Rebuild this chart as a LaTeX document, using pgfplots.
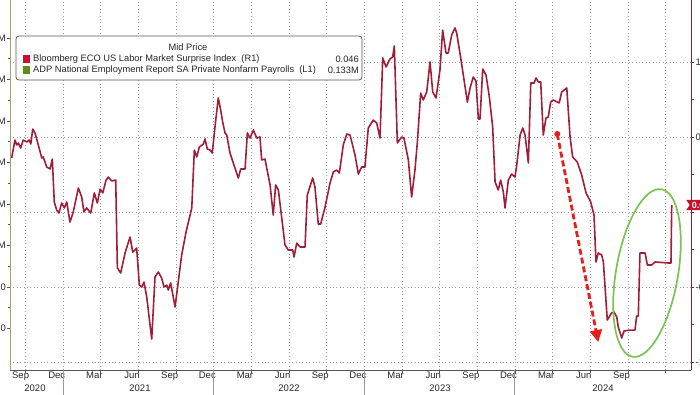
\documentclass[border=0pt]{standalone}
\usepackage{fontspec}
\setmainfont{Liberation Sans}
\usepackage{pgfplots}
\pgfplotsset{compat=1.18}
\usetikzlibrary{arrows.meta,shapes.symbols}
\definecolor{lineR}{HTML}{A11E38}
\definecolor{sqR}{HTML}{C8102E}
\definecolor{sqG}{HTML}{5E8E1E}
\definecolor{axgray}{HTML}{555555}
\definecolor{axred}{HTML}{8B2232}
\definecolor{axolive}{HTML}{A8A070}
\definecolor{gridc}{HTML}{9A9A9A}
\definecolor{arrred}{HTML}{E3201B}
\definecolor{ellg}{HTML}{7CC254}
\begin{document}
\begin{tikzpicture}[x=1pt,y=1pt]
% left axis (L1)
\begin{axis}[
  at={(10pt,24pt)}, anchor=south west, scale only axis,
  width=681pt, height=372pt,
  xmin=2020.648, xmax=2025.170, ymin=-0.4, ymax=1.3928,
  axis x line=none, axis y line*=left,
  y axis line style={draw=axolive, line width=0.9pt, -},
  ytick={-0.2,0,0.2,0.4,0.6,0.8,1.0,1.2},
  yticklabels={-200000,0,0.2M,0.4M,0.6M,0.8M,1.0M,1.2M},
  minor y tick num=1,
  tick align=outside, major tick length=3.5pt, minor tick length=2pt,
  y tick style={draw=axgray, line width=0.8pt},
  yticklabel style={font=\fontsize{9.5}{11}\selectfont, inner sep=0.5pt, text=black!85},
]
\end{axis}
% main axis (R1)
\begin{axis}[
  at={(10pt,24pt)}, anchor=south west, scale only axis,
  width=681pt, height=372pt,
  xmin=2020.648, xmax=2025.170, ymin=-1.0533, ymax=1.4267,
  axis x line*=bottom, axis y line*=right,
  x axis line style={draw=axgray, line width=0.8pt, -},
  y axis line style={draw=axred, line width=0.8pt, -},
  xtick={2020.75,2021,...,2025}, xticklabels={},
  minor x tick num=2,
  xmajorgrids, ymajorgrids,
  major grid style={draw=gridc, line width=0.6pt, dash pattern=on 0.8pt off 2.6pt},
  extra x ticks={2020.7183,2020.9583,2021.2083,2021.4583,2021.7083,2021.9583,2022.2083,2022.4583,2022.7083,2022.9583,2023.2083,2023.4583,2023.7083,2023.9583,2024.2083,2024.4583,2024.7083},
  extra x tick labels={Sep,Dec,Mar,Jun,Sep,Dec,Mar,Jun,Sep,Dec,Mar,Jun,Sep,Dec,Mar,Jun,Sep},
  extra x tick style={grid=none, major tick length=0pt},
  xticklabel style={font=\fontsize{9.5}{11}\selectfont, text=black!85, inner sep=1.5pt},
  ytick={-1,-0.5,0,0.5,1}, yticklabels={-1.0,-0.5,{},0.5,1.0},
  minor y tick num=1,
  tick align=outside, major tick length=3pt, minor tick length=3pt,
  x tick style={draw=axgray, line width=0.7pt},
  y tick style={draw=axred, line width=0.8pt},
  yticklabel style={font=\fontsize{9.5}{11}\selectfont, inner sep=1.5pt, text=black!85},
]
\addplot[lineR, line width=1.6pt, line join=round] coordinates {
(2020.659,0.360)(2020.681,0.480)(2020.693,0.447)(2020.703,0.460)(2020.719,0.427)(2020.736,0.480)(2020.759,0.467)(2020.776,0.480)(2020.786,0.453)(2020.799,0.553)(2020.814,0.527)(2020.836,0.447)(2020.859,0.360)(2020.869,0.367)(2020.892,0.300)(2020.914,0.287)(2020.929,0.353)(2020.942,0.067)(2020.958,0.013)(2020.973,-0.007)(2020.991,0.060)(2021.009,0.027)(2021.025,0.067)(2021.046,-0.067)(2021.068,0.000)(2021.102,0.160)(2021.124,0.100)(2021.139,0.000)(2021.157,0.027)(2021.184,-0.007)(2021.208,0.127)(2021.228,0.060)(2021.246,0.153)(2021.264,0.127)(2021.286,0.213)(2021.301,0.233)(2021.323,0.207)(2021.350,0.213)(2021.361,-0.373)(2021.383,-0.407)(2021.412,-0.273)(2021.445,-0.167)(2021.463,-0.267)(2021.478,-0.253)(2021.489,-0.240)(2021.507,-0.487)(2021.523,-0.500)(2021.538,-0.467)(2021.556,-0.567)(2021.589,-0.847)(2021.611,-0.433)(2021.633,-0.400)(2021.655,-0.440)(2021.671,-0.500)(2021.689,-0.487)(2021.699,-0.520)(2021.715,-0.473)(2021.744,-0.633)(2021.788,-0.287)(2021.817,-0.133)(2021.855,0.027)(2021.872,0.413)(2021.888,0.367)(2021.905,0.433)(2021.932,0.453)(2021.943,0.487)(2021.958,0.420)(2021.976,0.413)(2021.991,0.393)(2022.009,0.567)(2022.031,0.760)(2022.047,0.680)(2022.060,0.600)(2022.076,0.527)(2022.087,0.513)(2022.109,0.393)(2022.142,0.293)(2022.164,0.227)(2022.180,0.287)(2022.209,0.287)(2022.224,0.527)(2022.242,0.493)(2022.264,0.547)(2022.286,0.493)(2022.308,0.500)(2022.319,0.347)(2022.341,0.353)(2022.375,0.180)(2022.396,-0.020)(2022.412,0.180)(2022.430,0.147)(2022.474,-0.220)(2022.496,-0.253)(2022.525,-0.253)(2022.534,-0.300)(2022.552,-0.207)(2022.574,-0.233)(2022.607,-0.233)(2022.622,0.113)(2022.658,0.227)(2022.673,0.167)(2022.695,-0.080)(2022.711,-0.080)(2022.740,0.033)(2022.773,0.193)(2022.795,0.267)(2022.817,0.280)(2022.835,0.260)(2022.861,0.447)(2022.884,0.520)(2022.906,0.513)(2022.939,0.380)(2022.961,0.253)(2022.983,0.300)(2023.005,0.300)(2023.027,0.560)(2023.060,0.613)(2023.083,0.593)(2023.105,0.493)(2023.123,1.027)(2023.145,0.967)(2023.171,1.020)(2023.189,1.033)(2023.200,1.107)(2023.220,0.460)(2023.249,0.500)(2023.264,0.493)(2023.293,0.347)(2023.315,0.100)(2023.337,0.280)(2023.353,0.467)(2023.375,0.793)(2023.392,0.747)(2023.415,0.800)(2023.437,1.000)(2023.455,0.800)(2023.477,0.760)(2023.503,0.947)(2023.521,1.213)(2023.543,1.060)(2023.558,1.060)(2023.581,1.180)(2023.603,1.227)(2023.614,1.193)(2023.641,1.027)(2023.663,0.880)(2023.685,0.733)(2023.703,0.827)(2023.724,0.900)(2023.742,0.873)(2023.758,0.620)(2023.769,0.620)(2023.787,0.953)(2023.809,0.913)(2023.831,0.767)(2023.853,0.567)(2023.869,0.200)(2023.890,0.147)(2023.906,0.213)(2023.924,0.133)(2023.935,0.027)(2023.957,0.213)(2023.979,0.253)(2024.001,0.233)(2024.013,0.313)(2024.035,0.513)(2024.053,0.560)(2024.068,0.513)(2024.090,0.327)(2024.106,0.860)(2024.128,0.860)(2024.141,0.893)(2024.156,0.867)(2024.172,0.867)(2024.189,0.513)(2024.207,0.627)(2024.222,0.633)(2024.238,0.733)(2024.256,0.747)(2024.282,0.733)(2024.295,0.727)(2024.311,0.800)(2024.345,0.827)(2024.367,0.500)(2024.384,0.367)(2024.415,0.333)(2024.444,0.247)(2024.473,0.127)(2024.504,0.067)(2024.526,-0.020)(2024.539,-0.333)(2024.554,-0.273)(2024.577,-0.287)(2024.588,-0.333)(2024.614,-0.720)(2024.643,-0.673)(2024.659,-0.667)(2024.677,-0.700)(2024.687,-0.767)(2024.710,-0.840)(2024.725,-0.793)(2024.765,-0.787)(2024.798,-0.787)(2024.809,-0.693)(2024.820,-0.693)(2024.831,-0.273)(2024.865,-0.273)(2024.880,-0.353)(2024.909,-0.353)(2024.931,-0.333)(2025.019,-0.340)(2025.037,-0.340)(2025.042,0.046)
};
% red dashed arrow annotation
\draw[arrred, line width=2.8pt, dash pattern=on 6pt off 3pt, -{Triangle[width=12pt,length=12pt]}]
  (axis cs:2024.282,0.52) -- (axis cs:2024.554,-0.867);
\fill[arrred] (axis cs:2024.282,0.52) circle (3pt);
\end{axis}
% year separators (at Jan 1 positions of the axis)
\draw[gridc, line width=0.7pt] (63,24) -- (63,-2);
\draw[gridc, line width=0.7pt] (213.6,24) -- (213.6,-2);
\draw[gridc, line width=0.7pt] (364.2,24) -- (364.2,-2);
\draw[gridc, line width=0.7pt] (514.8,24) -- (514.8,-2);
% green ellipse
\draw[ellg, line width=1.7pt, rotate around={-9.8:(647,121)}] (647,121) ellipse (31 and 85);
% year labels
\begin{scope}[every node/.style={font=\fontsize{9.5}{11}\selectfont, text=black!85, inner sep=0pt}]
\node at (35,6) {2020};
\node at (140,6) {2021};
\node at (289,6) {2022};
\node at (440,6) {2023};
\node at (603,6) {2024};
\end{scope}
% last value tag
\node[signal, signal from=west, signal pointer angle=110, fill=sqR, text=white,
      font=\bfseries\fontsize{9}{10}\selectfont, inner sep=2pt, anchor=west] at (689.5,189) {0.046};
% legend
\draw[axgray, line width=0.8pt, fill=white, rounded corners=3pt] (16,358) rectangle (362,314);
\begin{scope}[every node/.style={font=\fontsize{9.3}{11}\selectfont, text=black!85, inner sep=0pt}]
\node at (188,347) {Mid Price};
\fill[sqR] (22.5,331) rectangle (30,339);
\fill[sqG] (22.5,320) rectangle (30,328);
\node[anchor=west] at (33,335) {Bloomberg ECO US Labor Market Surprise Index\ \ (R1)};
\node[anchor=east] at (359,335) {0.046};
\node[anchor=west] at (33,324) {ADP National Employment Report SA Private Nonfarm Payrolls\ \ (L1)};
\node[anchor=east] at (359,324) {0.133M};
\end{scope}
\pgfresetboundingbox
\path[use as bounding box] (0,0) rectangle (700,394);
\end{tikzpicture}
\end{document}
